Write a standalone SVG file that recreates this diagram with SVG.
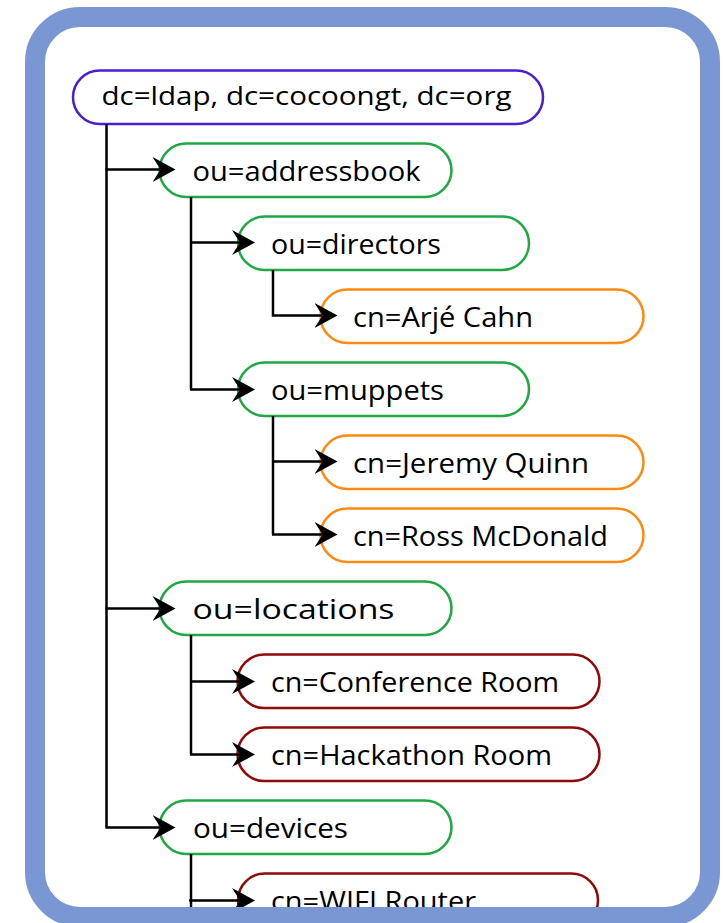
<svg xmlns="http://www.w3.org/2000/svg" width="727" height="923" viewBox="0 0 727 923">
  <style>
    .node rect { fill: #ffffff; stroke-width: 2.5; }
    .root rect { stroke: #4a1fd4; }
    .ou rect { stroke: #1fa844; }
    .person rect { stroke: #ff8a12; }
    .thing rect { stroke: #8f0a0a; }
    .node text { font-family: "Open Sans", "DejaVu Sans", sans-serif; font-size: 27.5px; fill: #000000; }
    .root text { font-size: 26px; }
    .conn { fill: none; stroke: #000000; stroke-width: 2.5; }
    .frame { fill: none; stroke: #7b97d3; stroke-width: 20; }
  </style>
  <defs>
    <marker id="arrow" viewBox="-23 -12.5 23 25" refX="-15" refY="0" markerWidth="23" markerHeight="25" markerUnits="userSpaceOnUse" orient="auto">
      <path d="M0,0 L-23,-12.5 L-15,0 L-23,12.5 Z" fill="#000000"/>
    </marker>
  </defs>
  <rect x="0" y="0" width="727" height="923" fill="#ffffff"/>

  <g id="node-root" class="node root">
    <rect x="73" y="70.5" width="470" height="53.5" rx="26.75"/>
    <text x="101.5" y="105" textLength="410" lengthAdjust="spacingAndGlyphs">dc=ldap, dc=cocoongt, dc=org</text>
  </g>
  <g id="node-addressbook" class="node ou">
    <rect x="159.5" y="143.5" width="292" height="53.5" rx="26.75"/>
    <text x="192.5" y="180.5" textLength="228" lengthAdjust="spacingAndGlyphs">ou=addressbook</text>
  </g>
  <g id="node-directors" class="node ou">
    <rect x="238" y="216.5" width="291" height="53.5" rx="26.75"/>
    <text x="271" y="253.5" textLength="170" lengthAdjust="spacingAndGlyphs">ou=directors</text>
  </g>
  <g id="node-arje" class="node person">
    <rect x="320.5" y="289.5" width="323" height="53.5" rx="26.75"/>
    <text x="353" y="326.5" textLength="180" lengthAdjust="spacingAndGlyphs">cn=Arjé Cahn</text>
  </g>
  <g id="node-muppets" class="node ou">
    <rect x="238" y="362.5" width="291" height="53.5" rx="26.75"/>
    <text x="271" y="399.5" textLength="173" lengthAdjust="spacingAndGlyphs">ou=muppets</text>
  </g>
  <g id="node-jeremy" class="node person">
    <rect x="320.5" y="435.5" width="323" height="53.5" rx="26.75"/>
    <text x="353" y="472.5" textLength="236" lengthAdjust="spacingAndGlyphs">cn=Jeremy Quinn</text>
  </g>
  <g id="node-ross" class="node person">
    <rect x="320.5" y="508.5" width="323" height="53.5" rx="26.75"/>
    <text x="353" y="545.5" textLength="255" lengthAdjust="spacingAndGlyphs">cn=Ross McDonald</text>
  </g>
  <g id="node-locations" class="node ou">
    <rect x="159.5" y="581.5" width="292" height="53.5" rx="26.75"/>
    <text x="192.5" y="618.5" textLength="202" lengthAdjust="spacingAndGlyphs">ou=locations</text>
  </g>
  <g id="node-conference" class="node thing">
    <rect x="237.5" y="654.5" width="362" height="53.5" rx="26.75"/>
    <text x="271" y="691.5" textLength="288" lengthAdjust="spacingAndGlyphs">cn=Conference Room</text>
  </g>
  <g id="node-hackathon" class="node thing">
    <rect x="237.5" y="727.5" width="362" height="53.5" rx="26.75"/>
    <text x="271" y="764.5" textLength="281" lengthAdjust="spacingAndGlyphs">cn=Hackathon Room</text>
  </g>
  <g id="node-devices" class="node ou">
    <rect x="159.5" y="800.5" width="292" height="53.5" rx="26.75"/>
    <text x="193" y="837.5" textLength="155" lengthAdjust="spacingAndGlyphs">ou=devices</text>
  </g>
  <g id="node-wifi" class="node thing">
    <rect x="238" y="873.5" width="360" height="53.5" rx="26.75"/>
    <text x="271" y="910.5" textLength="205" lengthAdjust="spacingAndGlyphs">cn=WIFI Router</text>
  </g>

  <g id="connectors">
    <path class="conn" d="M106.5,124 V827.5"/>
    <path class="conn" d="M105.5,169.5 H160.5" marker-end="url(#arrow)"/>
    <path class="conn" d="M105.5,608.5 H160.5" marker-end="url(#arrow)"/>
    <path class="conn" d="M105.5,827.5 H160.5" marker-end="url(#arrow)"/>

    <path class="conn" d="M191,197 V389.5"/>
    <path class="conn" d="M190,242.5 H240" marker-end="url(#arrow)"/>
    <path class="conn" d="M190,389.5 H240" marker-end="url(#arrow)"/>

    <path class="conn" d="M273,270 V315.5 H322.5" marker-end="url(#arrow)"/>

    <path class="conn" d="M273,416 V534.5"/>
    <path class="conn" d="M272,461.5 H322.5" marker-end="url(#arrow)"/>
    <path class="conn" d="M272,534.5 H322.5" marker-end="url(#arrow)"/>

    <path class="conn" d="M191,635 V754.5"/>
    <path class="conn" d="M190,681.5 H240" marker-end="url(#arrow)"/>
    <path class="conn" d="M190,754.5 H240" marker-end="url(#arrow)"/>

    <path class="conn" d="M191,854 V923"/>
    <path class="conn" d="M189,900.5 H240" marker-end="url(#arrow)"/>
  </g>

  <rect class="frame" x="35" y="17" width="675" height="900" rx="45"/>
</svg>
